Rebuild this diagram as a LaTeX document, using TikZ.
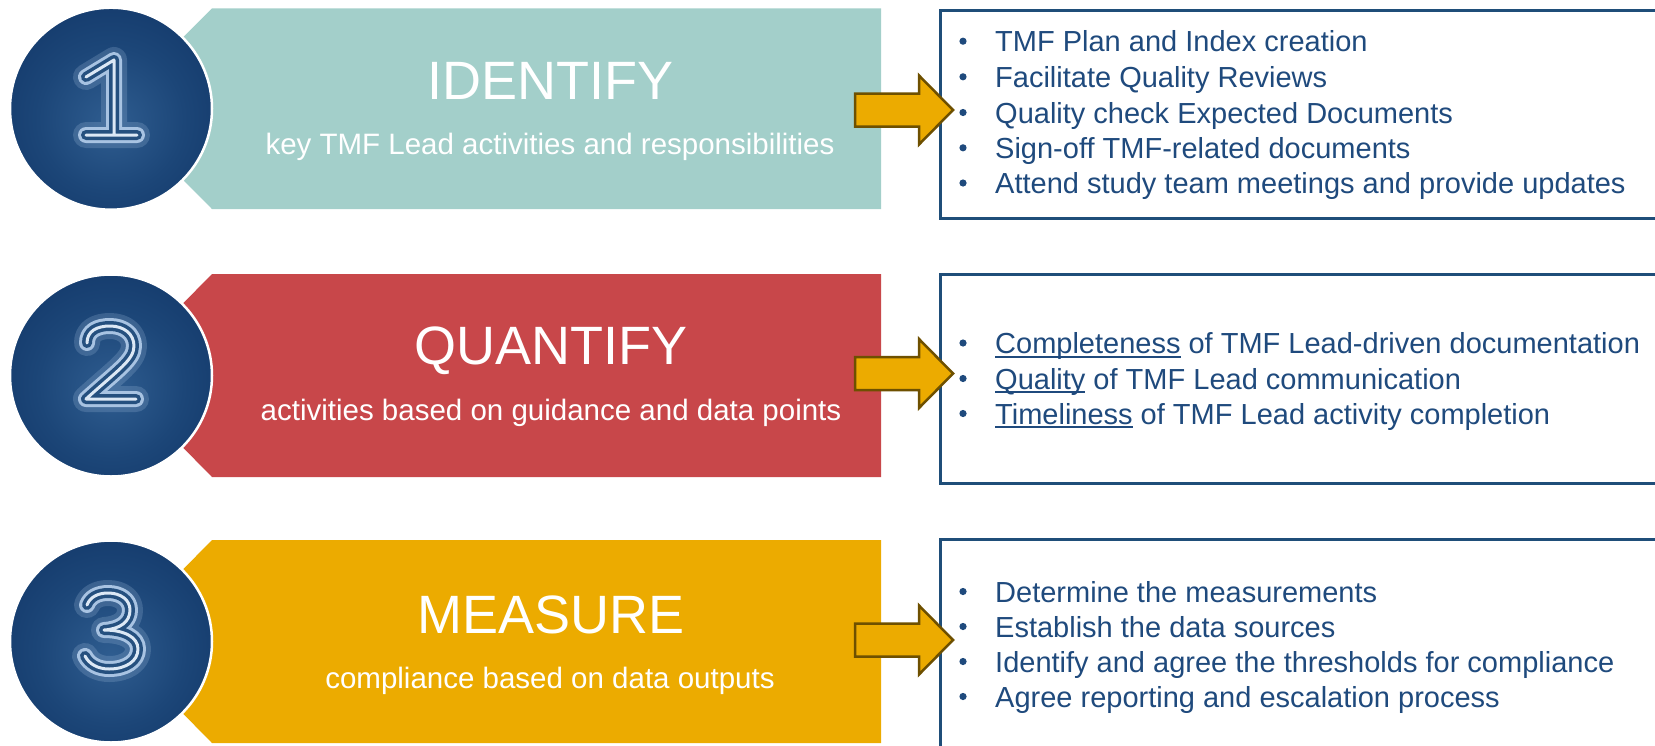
\documentclass[tikz,border=0pt]{standalone}
\usepackage{fontspec}
\setmainfont{Liberation Sans}

\definecolor{tealband}{HTML}{A3CFCA}
\definecolor{redband}{HTML}{C8474A}
\definecolor{goldband}{HTML}{ECAB00}
\definecolor{arrowedge}{HTML}{6E5000}
\definecolor{listblue}{HTML}{1F4A7D}
\definecolor{boxblue}{HTML}{1F4E79}
\definecolor{discedge}{HTML}{0E3162}
\definecolor{discmid}{HTML}{2F5D90}
\definecolor{discmix}{HTML}{1C4678}
\definecolor{digitline}{HTML}{A8C3E2}
\definecolor{digitcore}{HTML}{DCE8F5}
\definecolor{tubefill}{HTML}{25507F}

\pgfdeclareradialshading{discglow}{\pgfpoint{0bp}{-4bp}}{%
  color(0bp)=(discmid); color(18bp)=(discmix); color(40bp)=(discedge); color(50bp)=(discedge)}

% underline that crosses the descenders, as in office slides
\newcommand\undl[1]{\setbox0\hbox{#1}\rlap{\rule[-4pt]{\wd0}{1.8pt}}\box0\relax}

% a glowing tube digit: glow, light rim, dark inside, bright core
\newcommand\neondigit[1]{%
  \draw[tube glow] #1; \draw[tube outer] #1; \draw[tube inner] #1; \draw[tube core] #1;}

\tikzset{
  disc/.style={circle, minimum size=202pt, inner sep=0pt, shading=discglow,
    draw=white, line width=2.5pt},
  tube glow/.style={line width=26pt, draw=digitline, draw opacity=0.22,
    line cap=round, line join=round},
  tube outer/.style={line width=16pt, draw=digitline, line cap=round, line join=round},
  tube inner/.style={line width=10pt, draw=tubefill, line cap=round, line join=round},
  tube core/.style={line width=3pt, draw=digitcore, line cap=round, line join=round},
  title/.style={text=white, inner sep=0pt, anchor=base, font=\fontsize{54}{60}\selectfont},
  subtitle/.style={text=white, inner sep=0pt, anchor=base, font=\fontsize{29.5}{34}\selectfont},
  item/.style={text=listblue, inner sep=0pt, anchor=base west, font=\fontsize{29}{34}\selectfont},
  listbox/.style={draw=boxblue, line width=2.5pt, fill=white},
  arrowbody/.style={fill=goldband, draw=arrowedge, line width=2.5pt, line join=miter},
  pics/blockarrow/.style={code={
    \draw[arrowbody] (0,-16.5) -- (64,-16.5) -- (64,-34.5) -- (98,0)
      -- (64,34.5) -- (64,16.5) -- (0,16.5) -- cycle;}},
}

\begin{document}
\begin{tikzpicture}[x=1pt, y=-1pt]
\useasboundingbox (0,0) rectangle (1655,745);
\clip (0,0) rectangle (1655,745);

% ---- band backgrounds (pointed on the left, behind the discs)
\fill[tealband] (112,108.7) -- (212,8.3) -- (881,8.3) -- (881,209) -- (212,209) -- cycle;
\fill[redband] (112,375.5) -- (212,274) -- (881,274) -- (881,477) -- (212,477) -- cycle;
\fill[goldband] (112,641.5) -- (212,540) -- (881,540) -- (881,743) -- (212,743) -- cycle;

% ---- numbered discs
\node[disc] (disc1) at (111,108.7) {};
\node[disc] (disc2) at (111,375.5) {};
\node[disc] (disc3) at (111,641.5) {};

\neondigit{(86,77) -- (114,60) -- (114,135) (86,135) -- (137,135)}
\neondigit{(87,343) .. controls (87,331) and (97,326) .. (110,326)
  .. controls (124,326) and (134,334) .. (134,346)
  .. controls (134,360) and (118,370) .. (86,399) -- (136,399)}
\neondigit{(87,605) .. controls (90,597) and (98,593) .. (108,593)
  .. controls (121,593) and (130,600) .. (130,610)
  .. controls (130,622) and (120,629) .. (104,630)
  .. controls (124,630) and (138,637) .. (138,649)
  .. controls (138,661) and (126,669) .. (109,669)
  .. controls (98,669) and (89,664) .. (85,656)}

% ---- band texts
\node[title] (t1) at (550,99) {IDENTIFY};
\node[subtitle] (s1) at (550,154) {key TMF Lead activities and responsibilities};
\node[title] (t2) at (551,364) {QUANTIFY};
\node[subtitle] (s2) at (551,420) {activities based on guidance and data points};
\node[title] (t3) at (551,633) {MEASURE};
\node[subtitle] (s3) at (550,688) {compliance based on data outputs};

% ---- list boxes
\node[listbox, anchor=north west, minimum width=740pt, minimum height=208pt] (box1) at (939,9) {};
\node[listbox, anchor=north west, minimum width=740pt, minimum height=209pt] (box2) at (939,273) {};
\node[listbox, anchor=north west, minimum width=740pt, minimum height=230pt] (box3) at (939,538) {};

% ---- block arrows
\pic at (855,110) {blockarrow};
\pic at (855,373.5) {blockarrow};
\pic at (855,640) {blockarrow};

% ---- list items
\node[item] (i11) at (995,51.7) {TMF Plan and Index creation};
\node[item] (i12) at (995,87.3) {Facilitate Quality Reviews};
\node[item] (i13) at (995,123) {Quality check Expected Documents};
\node[item] (i14) at (995,158.3) {Sign-off TMF-related documents};
\node[item] (i15) at (995,193.5) {Attend study team meetings and provide updates};

\node[item] (i21) at (995,353.5) {\undl{Completeness} of TMF Lead-driven documentation};
\node[item] (i22) at (995,389) {\undl{Quality} of TMF Lead communication};
\node[item] (i23) at (995,424) {\undl{Timeliness} of TMF Lead activity completion};

\node[item] (i31) at (995,602) {Determine the measurements};
\node[item] (i32) at (995,637) {Establish the data sources};
\node[item] (i33) at (995,672) {Identify and agree the thresholds for compliance};
\node[item] (i34) at (995,707) {Agree reporting and escalation process};

\foreach \yy in {51.7,87.3,123,158.3,193.5,353.5,389,424,602,637,672,707}
  \fill[listblue] (963,\yy-10.5) circle (3.6);
\end{tikzpicture}
\end{document}
